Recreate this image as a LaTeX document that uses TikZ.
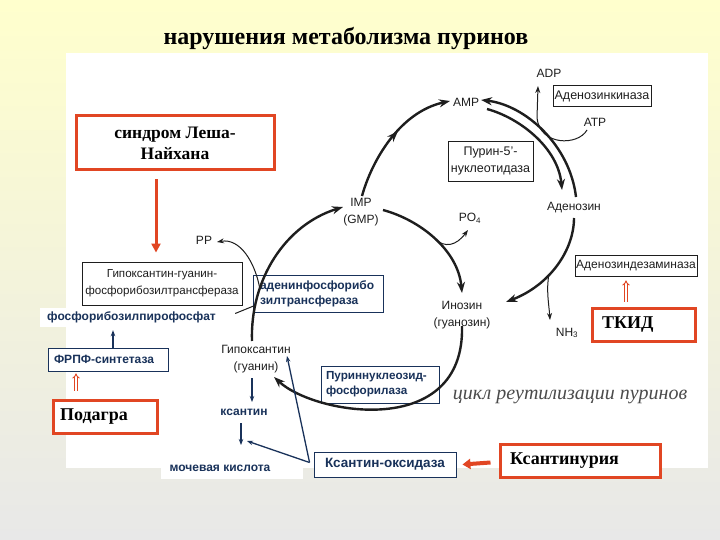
\documentclass[tikz,border=0pt]{standalone}
\usepackage{fontspec}
\setmainfont{Liberation Serif}
\setsansfont{Liberation Sans}
\usetikzlibrary{arrows.meta,decorations.markings,calc}
\definecolor{bgtop}{RGB}{255,255,205}
\definecolor{bgbot}{RGB}{232,232,232}
\definecolor{redb}{RGB}{225,70,35}
\definecolor{navy}{RGB}{25,50,90}
\definecolor{ink}{RGB}{30,30,30}
\begin{document}
\begin{tikzpicture}[x=1pt,y=-1pt,
  lbl/.style={font=\sffamily\fontsize{12}{16.5}\selectfont, align=center, text=ink, inner sep=0pt},
  nvlbl/.style={font=\sffamily\bfseries\fontsize{12}{14}\selectfont, text=navy, inner sep=0pt},
  blkbox/.style={draw=ink, line width=0.9pt, fill=white, font=\sffamily\fontsize{12.5}{17}\selectfont, align=center, text=ink, inner sep=0pt},
  nvbox/.style={draw=navy, line width=0.9pt, fill=white, font=\sffamily\bfseries\fontsize{12}{15}\selectfont, text=navy, inner sep=0pt},
  redbox/.style={draw=redb, line width=3pt, fill=white, font=\bfseries\fontsize{18}{21}\selectfont, text=black, inner sep=0pt},
  cyc/.style={draw=ink, line width=2.4pt, -{Stealth[length=11pt,width=8pt]}},
  thinarr/.style={draw=ink, line width=1pt, -{Stealth[length=7pt,width=5pt]}},
  nvarr/.style={draw=navy, line width=1.3pt, -{Stealth[length=6pt,width=4.5pt]}},
  redarr/.style={draw=redb, line width=3pt, -{Triangle[length=9pt,width=9pt]}},
  dblred/.style={draw=redb, line width=0.9pt, double=white, double distance=1.5pt, -{Implies}},
  midarrow/.style={postaction={decorate}, decoration={markings, mark=at position #1 with {\arrow{Stealth[length=11pt,width=8pt]}}}},
]
\shade[top color=bgtop, bottom color=bgbot] (0,0) rectangle (720,540);
\useasboundingbox (0,0) rectangle (720,540);
\fill[white] (66,53) rectangle (708,468);
\fill[white] (161,455) rectangle (303,479);

\node[font=\bfseries\fontsize{24}{26}\selectfont, inner sep=0pt] (title) at (346,39) {нарушения метаболизма пуринов};

% red boxes
\node[redbox, minimum width=198pt, minimum height=54pt, align=center, font=\bfseries\fontsize{17.5}{21}\selectfont] (lesch) at (175,143) {синдром Леша-\\Найхана};
\node[redbox, minimum width=104pt, minimum height=33pt, text width=90pt, align=left] (podagra) at (105,416.5) {Подагра};
\node[redbox, minimum width=103pt, minimum height=33pt, text width=83pt, align=left] (tkid) at (643.5,324.5) {ТКИД};
\node[redbox, minimum width=160pt, minimum height=33pt, text width=140pt, align=left] (xanturia) at (580,460.5) {Ксантинурия};

% black boxes
\node[blkbox, minimum width=160pt, minimum height=43pt, font=\sffamily\fontsize{11.6}{17}\selectfont] (hgprt) at (162,283.5) {Гипоксантин-гуанин-\\фосфорибозилтрансфераза};
\node[blkbox, minimum width=85pt, minimum height=40pt] (p5n) at (490.5,161) {Пурин-5'-\\нуклеотидаза};
\node[blkbox, minimum width=98pt, minimum height=21pt] (adk) at (602,96) {Аденозинкиназа};
\node[blkbox, minimum width=122pt, minimum height=21pt, font=\sffamily\fontsize{12}{14}\selectfont] (ada) at (636,265.5) {Аденозиндезаминаза};

% navy boxes
\node[nvbox, minimum width=130pt, minimum height=37pt, text width=116pt, align=left] (aprt) at (318,293.5) {аденинфосфорибо\\зилтрансфераза};
\node[nvbox, minimum width=118pt, minimum height=37pt, text width=108pt, align=left, font=\sffamily\bfseries\fontsize{11.7}{15}\selectfont] (pnp) at (380,384.5) {Пуриннуклеозид-\\фосфорилаза};
\node[nvbox, minimum width=142pt, minimum height=25pt, font=\sffamily\bfseries\fontsize{13.5}{15}\selectfont] (xo) at (385,464.5) {Ксантин-оксидаза};
\node[nvbox, minimum width=120pt, minimum height=23pt, text width=108pt, align=left] (frpf) at (108,359.5) {ФРПФ-синтетаза};
\node[nvlbl, fill=white, minimum width=183pt, minimum height=19pt] (prpp) at (131.5,317.5) {фосфорибозилпирофосфат};
\node[nvlbl] (xan) at (244,412) {ксантин};
\node[nvlbl] (uric) at (220,468) {мочевая кислота};

% plain labels
\node[lbl] (amp) at (466,102) {AMP};
\node[lbl] (adp) at (549,73) {ADP};
\node[lbl] (atp) at (595,122) {ATP};
\node[lbl] (aden) at (574,208) {Аденозин};
\node[lbl] (imp) at (361,212) {IMP\\(GMP)};
\node[lbl] (po4) at (470,218) {PO\textsubscript{4}};
\node[lbl] (pp) at (204,240) {PP};
\node[lbl] (ino) at (462,315) {Инозин\\(гуанозин)};
\node[lbl] (nh3) at (567,333) {NH\textsubscript{3}};
\node[lbl] (hyp) at (256,359) {Гипоксантин\\(гуанин)};
\node[font=\itshape\fontsize{20}{22}\selectfont, text=ink!80, inner sep=0pt] (cycle) at (570,397) {цикл реутилизации пуринов};

% cycle curves
\draw[cyc] ($(hyp)+(-4,-18)$) .. controls (250,280) and (285,225) .. ($(imp)+(-18,-5)$) coordinate[pos=0.2] (jprpp) coordinate[pos=0.3] (jpp);
\draw[cyc, midarrow=0.55] ($(imp)+(1,-16)$) .. controls (372,160) and (400,112) .. ($(amp)+(-16,-1)$);
\draw[cyc] ($(amp)+(21,7)$) .. controls (520,118) and (558,148) .. ($(aden)+(-12,-18)$);
\draw[cyc] ($(aden)+(2,-11)$) .. controls (570,145) and (525,105) .. ($(amp)+(15,-2)$);
\draw[thinarr] ($(atp)+(-8,8)$) .. controls (578,146) and (540,146) .. (537,118) -- ($(adp)+(-11,13)$);
\draw[cyc] ($(aden)+(0,10)$) .. controls (574,250) and (550,285) .. ($(ino)+(44,-13)$) coordinate[pos=0.6] (jnh);
\draw[thinarr] (jnh) .. controls (546,290) and (549,305) .. ($(nh3)+(-17,-13)$);
\draw[cyc] ($(imp)+(22,-2)$) .. controls (420,220) and (458,250) .. ($(ino)+(0,-22)$) coordinate[pos=0.5] (jpo);
\draw[thinarr] (jpo) .. controls (445,248) and (456,246) .. ($(po4)+(-2,12)$);
\draw[cyc] ($(ino)+(0,11)$) .. controls (465,440) and (315,415) .. ($(hyp)+(18,18)$);
\draw[thinarr] (jpp) .. controls (255,262) and (240,238) .. ($(pp)+(13,2)$);
\draw[ink, line width=1pt] ($(prpp.east)+(12,-4)$) -- (jprpp);

% navy arrows
\draw[nvarr] ($(frpf.north)+(5,0)$) -- ($(prpp.south)+(-18.5,3)$);
\draw[nvarr] ($(hyp)+(-4,19)$) -- ($(xan)+(8,-10)$);
\draw[nvarr] ($(xan)+(-3,11)$) -- ($(uric)+(21,-23)$);
\draw[nvarr] ($(xo.west)+(-4,-2)$) -- ($(hyp)+(31,-3)$);
\draw[nvarr] ($(xo.west)+(-4,-2)$) -- ($(uric)+(27,-27)$);

% red arrows
\draw[redarr] ($(lesch.south)+(-19,8)$) -- ($(hgprt.north)+(-6,-9)$);
\draw[redarr, line width=4pt, -{Triangle[length=8pt,width=10pt]}] ($(xanturia.west)+(-8,2)$) -- ($(xo.east)+(6,0)$);
\draw[dblred] ($(tkid.north)+(-17.5,-5)$) -- ($(ada.south)+(-10,4)$);
\draw[dblred] ($(podagra.north)+(-29,-8)$) -- ($(frpf.south)+(-32,2)$);
\end{tikzpicture}
\end{document}
